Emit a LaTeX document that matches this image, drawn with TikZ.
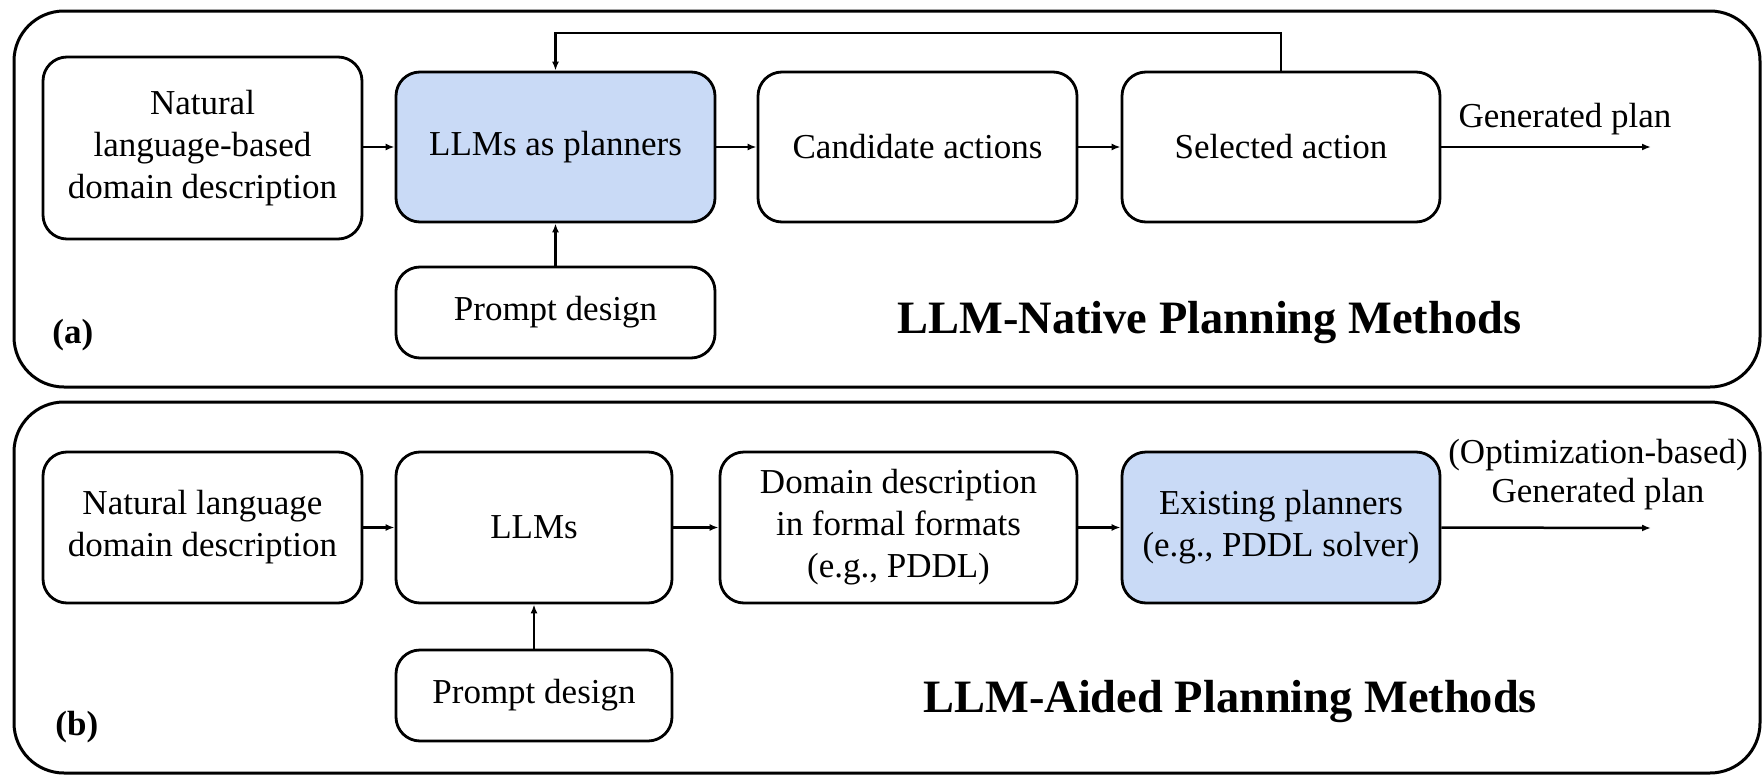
\documentclass[tikz,border=0pt]{standalone}
\usepackage{fontspec}
\setmainfont{Liberation Serif}
\usetikzlibrary{arrows.meta}
\definecolor{plannerblue}{HTML}{C9DAF6}
\begin{document}
\begin{tikzpicture}[x=0.5pt,y=-0.5pt,
  panel/.style={draw,line width=1.5pt,rounded corners=25pt},
  flowbox/.style={draw,line width=1.4pt,rounded corners=12pt,align=center,
    inner sep=0pt,font=\fontsize{17.5}{21}\selectfont},
  hot/.style={flowbox,fill=plannerblue},
  link/.style={line width=1.25pt,-{Latex[length=4.5pt,width=3.5pt]}},
  plain/.style={font=\fontsize{17.5}{21}\selectfont,inner sep=0pt},
  heading/.style={font=\bfseries\fontsize{23.2}{28}\selectfont,inner sep=0pt},
  tag/.style={font=\bfseries\fontsize{17.5}{21}\selectfont,inner sep=0pt}]
\useasboundingbox (0,0) rectangle (1762,776);

% ---------- (a) LLM-native planning ----------
\draw[panel] (14,11) rectangle (1760,387);
\node[flowbox,minimum width=159.5pt,minimum height=91pt] (a1) at (202.5,148)
  {Natural\\language-based\\domain description};
\node[hot,minimum width=159.5pt,minimum height=75pt] (a2) at (555.5,147) {LLMs as planners};
\node[flowbox,minimum width=159.5pt,minimum height=75pt] (a3) at (917.5,147) {Candidate actions};
\node[flowbox,minimum width=159pt,minimum height=75pt] (a4) at (1281,147) {Selected action};
\node[flowbox,minimum width=159.5pt,minimum height=45.5pt] (pa) at (555.5,312.5) {Prompt design};
\coordinate (fb) at (0,33);
\coordinate (outa) at (1651,147);

\draw[link] (a1.east |- a2.west) -- (a2.west);
\draw[link] (a2) -- (a3);
\draw[link] (a3) -- (a4);
\draw[link] (pa) -- (a2);
\draw[link] (a4.north) -- (a4.north |- fb) -- (a2.north |- fb) -- (a2.north);
\draw[link] (a4.east) -- (outa);

\node[plain,anchor=base] (gpa) at (1565,127) {Generated plan};
\node[heading,anchor=base west] (ta) at (897,333) {LLM-Native Planning Methods};
\node[tag,anchor=base west] (la) at (52,343) {(a)};

% ---------- (b) LLM-aided planning ----------
\draw[panel] (14,402) rectangle (1760,773);
\node[flowbox,minimum width=159.5pt,minimum height=75.5pt] (b1) at (202.5,527.5)
  {Natural language\\domain description};
\node[flowbox,minimum width=138pt,minimum height=75.5pt] (b2) at (534,527.5) {LLMs};
\node[flowbox,minimum width=178.5pt,minimum height=75.5pt] (b3) at (898.5,527.5)
  {Domain description\\in formal formats\\(e.g., PDDL)};
\node[hot,minimum width=159pt,minimum height=75.5pt] (b4) at (1281,527.5)
  {Existing planners\\(e.g., PDDL solver)};
\node[flowbox,minimum width=138pt,minimum height=45.5pt] (pb) at (534,695.5) {Prompt design};
\coordinate (outb) at (1651,528);

\draw[link] (b1) -- (b2);
\draw[link] (b2) -- (b3);
\draw[link] (b3) -- (b4);
\draw[link] (pb) -- (b2);
\draw[link] (b4.east) -- (outb);

\node[plain,anchor=base] (ob) at (1598,463) {(Optimization-based)};
\node[plain,anchor=base] (gpb) at (1598,502) {Generated plan};
\node[heading,anchor=base west] (tb) at (923,712) {LLM-Aided Planning Methods};
\node[tag,anchor=base west] (lb) at (55,735) {(b)};
\end{tikzpicture}
\end{document}
